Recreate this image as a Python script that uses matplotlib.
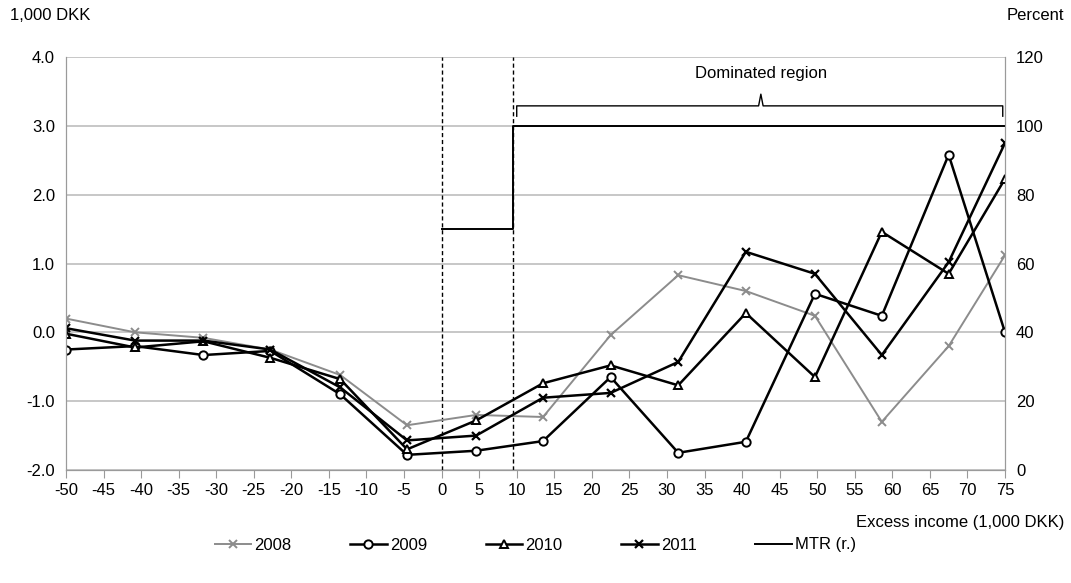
import numpy as np
import matplotlib.pyplot as plt

# Excess income bins (1,000 DKK)
x = [-50, -40.8, -31.7, -22.8, -13.5, -4.6, 4.6, 13.5, 22.5, 31.5, 40.5, 49.7, 58.6, 67.5, 75]
y2008 = [0.20, 0.00, -0.08, -0.25, -0.62, -1.35, -1.20, -1.23, -0.04, 0.83, 0.60, 0.24, -1.30, -0.20, 1.12]
y2009 = [-0.25, -0.20, -0.33, -0.27, -0.90, -1.78, -1.72, -1.58, -0.65, -1.75, -1.59, 0.56, 0.24, 2.58, 0.00]
y2010 = [-0.02, -0.22, -0.13, -0.37, -0.68, -1.70, -1.28, -0.74, -0.48, -0.77, 0.28, -0.65, 1.46, 0.85, 2.23]
y2011 = [0.06, -0.12, -0.12, -0.25, -0.80, -1.57, -1.50, -0.95, -0.88, -0.43, 1.17, 0.85, -0.33, 1.02, 2.75]
mtr_x = [0, 9.5, 9.5, 75]
mtr_y = [70, 70, 100, 100]

plt.rcParams['font.family'] = ['Liberation Sans', 'DejaVu Sans']
plt.rcParams['axes.unicode_minus'] = False
fig = plt.figure(figsize=(10.71, 5.83), dpi=100)
ax = fig.add_axes([66/1071, 1 - 470/583, 939/1071, 413/583])
ax2 = ax.twinx()

ax.plot(x, y2008, color='#8c8c8c', lw=1.4, marker='x', ms=6, mew=1.4, label='2008', zorder=3)
ax.plot(x, y2009, color='black', lw=1.8, marker='o', ms=6, mfc='white', mew=1.4, label='2009', zorder=4)
ax.plot(x, y2010, color='black', lw=1.8, marker='^', ms=6, mfc='white', mew=1.4, label='2010', zorder=4)
ax.plot(x, y2011, color='black', lw=1.8, marker='x', ms=6, mew=1.6, label='2011', zorder=4)
ax2.plot(mtr_x, mtr_y, color='black', lw=1.4, label='MTR (r.)')
ax.axvline(0, color='black', ls='--', lw=1, dashes=(3, 2))
ax.axvline(9.5, color='black', ls='--', lw=1, dashes=(3, 2))

ax.set_xlim(-50, 75)
ax.set_ylim(-2, 4)
ax2.set_ylim(0, 120)
ax.set_xticks(np.arange(-50, 76, 5))
ax.set_yticks(np.arange(-2, 4.1, 1))
ax.set_yticklabels([f'{v:.1f}' for v in np.arange(-2, 4.1, 1)])
ax2.set_yticks(np.arange(0, 121, 20))
ax.grid(axis='y', color='#bdbdbd', lw=1.2)
ax.set_axisbelow(True)
for a in (ax, ax2):
    for s in a.spines.values():
        s.set_color('#9a9a9a')
    a.spines['top'].set_visible(False)
    a.tick_params(labelsize=12)
ax.tick_params(axis='y', length=0, pad=8)
ax2.tick_params(axis='y', length=0, pad=8)
ax.tick_params(axis='x', direction='out', length=6, color='#9a9a9a')

# brace for dominated region
ax.plot([10, 10, 42.2, 42.5, 42.8, 74.7, 74.7], [3.14, 3.29, 3.29, 3.46, 3.29, 3.29, 3.14], color='black', lw=1)
ax.text(42.5, 3.76, 'Dominated region', ha='center', va='center', fontsize=12)

fig.text(10/1071, 1 - 15/583, '1,000 DKK', fontsize=12, va='center')
fig.text(1064/1071, 1 - 15/583, 'Percent', fontsize=12, va='center', ha='right')
fig.text(1064/1071, 1 - 522/583, 'Excess income (1,000 DKK)', fontsize=12, va='center', ha='right')

h1, l1 = ax.get_legend_handles_labels()
h2, l2 = ax2.get_legend_handles_labels()
fig.legend(h1 + h2, l1 + l2, loc='center', bbox_to_anchor=(0.5, 1 - 545/583), ncol=5,
           frameon=False, fontsize=12, handlelength=2.2, columnspacing=3.5, handletextpad=0.2)

fig.savefig('out.png', dpi=100)
